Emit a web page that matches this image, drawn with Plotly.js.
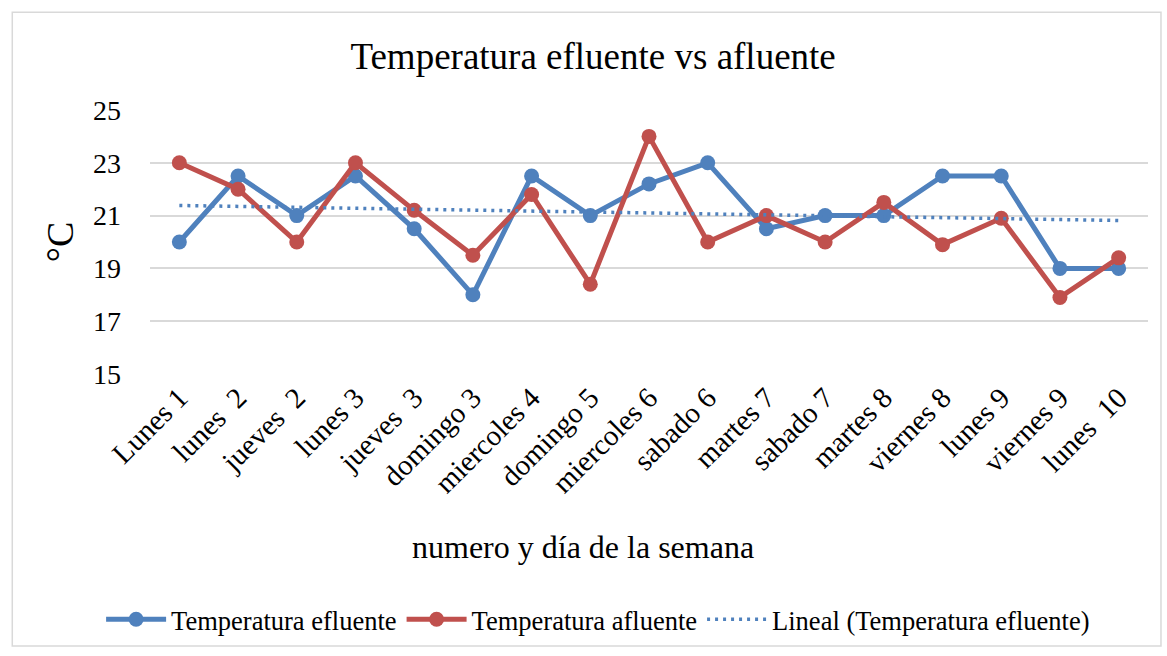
<!DOCTYPE html>
<html>
<head>
<meta charset="utf-8">
<script src="https://cdn.plot.ly/plotly-3.0.1.min.js"></script>
<style>html,body{margin:0;padding:0;background:#fff;}#chart{width:1167px;height:656px;}</style>
</head>
<body>
<div id="chart"></div>
<script>
const categories = ["Lunes 1", "lunes  2", "jueves  2", "lunes 3", "jueves  3", "domingo 3", "miercoles 4", "domingo 5", "miercoles 6", "sabado 6", "martes 7", "sabado 7", "martes 8", "viernes 8", "lunes 9", "viernes 9", "lunes  10"];
const efluente = [20, 22.5, 21, 22.5, 20.5, 18, 22.5, 21, 22.2, 23, 20.5, 21, 21, 22.5, 22.5, 19, 19];
const afluente = [23, 22, 20, 23, 21.2, 19.5, 21.8, 18.4, 24, 20, 21, 20, 21.5, 19.9, 20.9, 17.9, 19.4];
const yTicks = [15, 17, 19, 21, 23, 25];

// Linear trendline (least squares) of efluente, as Excel's "Lineal" trendline
const n = efluente.length;
const xs = efluente.map((_, i) => i + 1);
const mx = xs.reduce((a, b) => a + b, 0) / n;
const my = efluente.reduce((a, b) => a + b, 0) / n;
let sxy = 0, sxx = 0;
for (let i = 0; i < n; i++) { sxy += (xs[i] - mx) * (efluente[i] - my); sxx += (xs[i] - mx) ** 2; }
const slope = sxy / sxx, intercept = my - slope * mx;
const trend = xs.map(x => intercept + slope * x);

const BLUE = '#4F81BD', RED = '#C0504D';
const FONT = 'Liberation Serif, Times New Roman, serif';

const traces = [
  {x: categories, y: efluente, name: 'Temperatura efluente', type: 'scatter', mode: 'lines+markers',
   line: {color: BLUE, width: 5}, marker: {color: BLUE, size: 15}},
  {x: categories, y: afluente, name: 'Temperatura afluente', type: 'scatter', mode: 'lines+markers',
   line: {color: RED, width: 5}, marker: {color: RED, size: 15}},
  {x: categories, y: trend, name: 'Lineal (Temperatura efluente)', type: 'scatter', mode: 'lines',
   line: {color: BLUE, width: 3.5, dash: '3px,5px'}}
];

const layout = {
  width: 1167, height: 656,
  paper_bgcolor: '#fff', plot_bgcolor: '#fff',
  margin: {l: 150, r: 19, t: 110, b: 280},
  font: {family: FONT, color: '#000'},
  title: {text: 'Temperatura efluente vs afluente', font: {size: 37, family: FONT, color: '#000'},
          x: 0.444, xref: 'paper', xanchor: 'center', y: 0.915, yanchor: 'middle'},
  xaxis: {
    type: 'category', range: [-0.5, 16.5], tickangle: -45, tickfont: {size: 29}, showgrid: false, zeroline: false,
    showline: false, ticks: '', automargin: false
  },
  yaxis: {
    range: [15, 25], tickvals: yTicks, ticktext: yTicks.map(String), tickfont: {size: 28},
    showgrid: true, gridcolor: '#d9d9d9', gridwidth: 2, zeroline: false, showline: false, ticks: '',
    ticklabelstandoff: 28, automargin: false,
    title: {text: '°C', font: {size: 38}, standoff: 7}
  },
  annotations: [{text: 'numero y día de la semana', xref: 'paper', yref: 'paper', x: 0.434, y: -0.654,
                 xanchor: 'center', yanchor: 'middle', showarrow: false, font: {size: 32}}],
  showlegend: true,
  legend: {orientation: 'h', x: 0.449, xanchor: 'center', y: -0.93, yanchor: 'middle',
           font: {size: 26.5}, itemwidth: 60, tracegroupgap: 0},
  shapes: [{type: 'rect', xref: 'paper', yref: 'paper', x0: -0.138, x1: 1.013, y0: -1.03, y1: 1.37,
            line: {color: '#d9d9d9', width: 1.5}, fillcolor: 'rgba(0,0,0,0)', layer: 'below'}]
};

Plotly.newPlot('chart', traces, layout, {displayModeBar: false, staticPlot: true});
</script>
</body>
</html>
